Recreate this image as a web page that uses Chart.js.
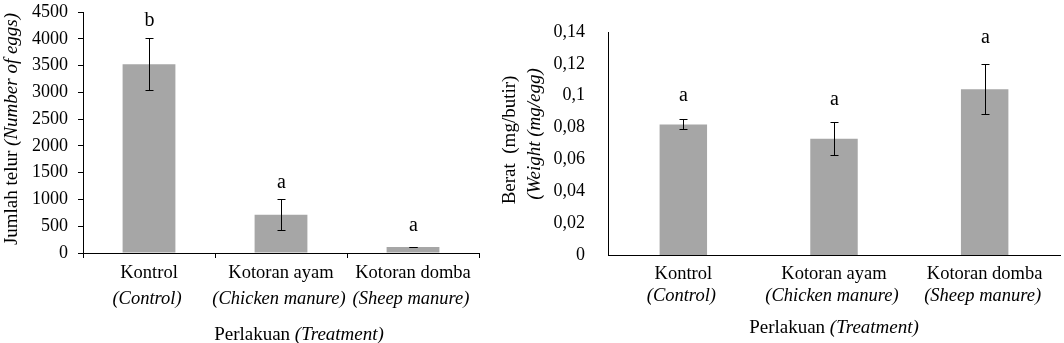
<!DOCTYPE html>
<html>
<head>
<meta charset="utf-8">
<script src="https://cdn.jsdelivr.net/npm/chart.js@4"></script>
<style>
body { margin:0; background:#fff; width:1064px; height:343px; overflow:hidden; position:relative; }
canvas { position:absolute; top:0; }
</style>
</head>
<body>
<canvas id="eggChart" width="490" height="343" style="left:0"></canvas>
<canvas id="weightChart" width="574" height="343" style="left:490px"></canvas>
<script>
// data
var categories = ['Kontrol', 'Kotoran ayam', 'Kotoran domba'];
var categoriesEn = ['(Control)', '(Chicken manure)', '(Sheep manure)'];

var eggCount = [3525, 715, 112];
var eggCountErr = [482, 290, 8];
var eggLetters = ['b', 'a', 'a'];

var eggWeight = [0.082, 0.073, 0.104];
var eggWeightErr = [0.0032, 0.0104, 0.0157];
var weightLetters = ['a', 'a', 'a'];

var FONT = '"Liberation Serif", "Times New Roman", serif';
var BAR = '#a6a6a6';

// draws text made of [text, italic] pieces centred on 0,0
function mixedText(ctx, parts, size) {
	var total = 0, w = [];
	for (var i = 0; i < parts.length; i++) {
		ctx.font = (parts[i][1] ? 'italic ' : '') + size + 'px ' + FONT;
		w[i] = ctx.measureText(parts[i][0]).width;
		total += w[i];
	}
	var x = -total / 2;
	for (var i = 0; i < parts.length; i++) {
		ctx.font = (parts[i][1] ? 'italic ' : '') + size + 'px ' + FONT;
		ctx.textAlign = 'left';
		ctx.fillText(parts[i][0], x, 0);
		x += w[i];
	}
}

var extrasPlugin = {
	id: 'extras',
	afterDatasetsDraw: function(chart, args, o) {
		var ctx = chart.ctx;
		var meta = chart.getDatasetMeta(0);
		var ys = chart.scales.y;
		var vals = chart.data.datasets[0].data;
		var area = chart.chartArea;
		ctx.save();
		ctx.fillStyle = '#000';
		ctx.strokeStyle = '#000';
		ctx.lineWidth = 1;
		ctx.textBaseline = 'middle';

		// error bars + letters
		for (var i = 0; i < vals.length; i++) {
			var x = Math.round(meta.data[i].x) + 0.5;
			var top = Math.round(ys.getPixelForValue(vals[i] + o.err[i])) + 0.5;
			var bot = Math.round(ys.getPixelForValue(vals[i] - o.err[i])) + 0.5;
			ctx.beginPath();
			ctx.moveTo(x, top); ctx.lineTo(x, bot);
			ctx.moveTo(x - o.cap, top); ctx.lineTo(x + o.cap, top);
			ctx.moveTo(x - o.cap, bot); ctx.lineTo(x + o.cap, bot);
			ctx.stroke();
			ctx.font = o.letterSize + 'px ' + FONT;
			ctx.textAlign = 'center';
			ctx.fillText(o.letters[i], x, top - o.letterGap[i]);
		}

		// category labels, two lines
		for (var i = 0; i < categories.length; i++) {
			var cx = chart.scales.x.getPixelForValue(i);
			ctx.save();
			ctx.translate(cx, o.line1);
			mixedText(ctx, [[categories[i], false]], 18.5);
			ctx.restore();
			ctx.save();
			ctx.translate(cx - 2, o.line2);
			mixedText(ctx, [[categoriesEn[i], true]], 18.5);
			ctx.restore();
		}

		// x title
		ctx.save();
		ctx.translate((area.left + area.right) / 2 + o.titleShift, o.titleY);
		mixedText(ctx, [['Perlakuan ', false], ['(Treatment)', true]], 19);
		ctx.restore();

		// y title lines
		for (var j = 0; j < o.yTitle.length; j++) {
			ctx.save();
			ctx.translate(o.yTitle[j].x, o.yTitle[j].y);
			ctx.rotate(-Math.PI / 2);
			mixedText(ctx, o.yTitle[j].parts, 19);
			ctx.restore();
		}
		ctx.restore();
	}
};

new Chart(document.getElementById('eggChart'), {
	type: 'bar',
	data: {
		labels: categories,
		datasets: [{ data: eggCount, backgroundColor: BAR, barPercentage: 0.4, categoryPercentage: 1 }]
	},
	plugins: [extrasPlugin],
	options: {
		responsive: false,
		animation: false,
		layout: { padding: { top: 12, right: 11, left: 0, bottom: 0 } },
		plugins: {
			legend: { display: false },
			tooltip: { enabled: false },
			extras: {
				err: eggCountErr, letters: eggLetters, letterGap: [18, 17, 22], letterSize: 20, cap: 4,
				line1: 273, line2: 299, titleY: 335, titleShift: 18,
				yTitle: [{ x: 12, y: 129, parts: [['Jumlah telur ', false], ['(Number of eggs)', true]] }]
			}
		},
		scales: {
			x: {
				afterFit: function(s) { s.height = 90; s.paddingLeft = 0; s.paddingRight = 0; },
				grid: { offset: true, drawOnChartArea: false, drawTicks: true, tickLength: 5, color: '#000' },
				border: { display: true, color: '#000', width: 1 },
				ticks: { callback: function() { return ''; } }
			},
			y: {
				min: 0, max: 4500,
				afterFit: function(s) { s.width = 83; s.paddingTop = 0; s.paddingBottom = 0; },
				grid: { drawOnChartArea: false, drawTicks: true, tickLength: 5, color: '#000' },
				border: { display: true, color: '#000', width: 1 },
				ticks: {
					stepSize: 500, padding: 10, color: '#000', font: { family: FONT, size: 18 },
					callback: function(v) { return String(v); }
				}
			}
		}
	}
});

new Chart(document.getElementById('weightChart'), {
	type: 'bar',
	data: {
		labels: categories,
		datasets: [{ data: eggWeight, backgroundColor: BAR, barPercentage: 0.315, categoryPercentage: 1 }]
	},
	plugins: [extrasPlugin],
	options: {
		responsive: false,
		animation: false,
		layout: { padding: { top: 32, right: 4, left: 0, bottom: 0 } },
		plugins: {
			legend: { display: false },
			tooltip: { enabled: false },
			extras: {
				err: eggWeightErr, letters: weightLetters, letterGap: [24, 23, 27], letterSize: 20, cap: 4,
				line1: 274, line2: 296, titleY: 328, titleShift: 0,
				yTitle: [
					{ x: 20, y: 140, parts: [['Berat  (mg/butir)', false]] },
					{ x: 45, y: 134, parts: [['(Weight (mg/egg)', true]] }
				]
			}
		},
		scales: {
			x: {
				afterFit: function(s) { s.height = 88; s.paddingLeft = 0; s.paddingRight = 0; },
				grid: { display: false },
				border: { display: true, color: '#000', width: 1 },
				ticks: { callback: function() { return ''; } }
			},
			y: {
				min: 0, max: 0.14,
				afterFit: function(s) { s.width = 118; s.paddingTop = 0; s.paddingBottom = 0; },
				grid: { display: false },
				border: { display: true, color: '#000', width: 1 },
				ticks: {
					stepSize: 0.02, padding: 15, color: '#000', font: { family: FONT, size: 18 },
					callback: function(v) { return String(Number(v.toFixed(2))).replace('.', ','); }
				}
			}
		}
	}
});
</script>
</body>
</html>
